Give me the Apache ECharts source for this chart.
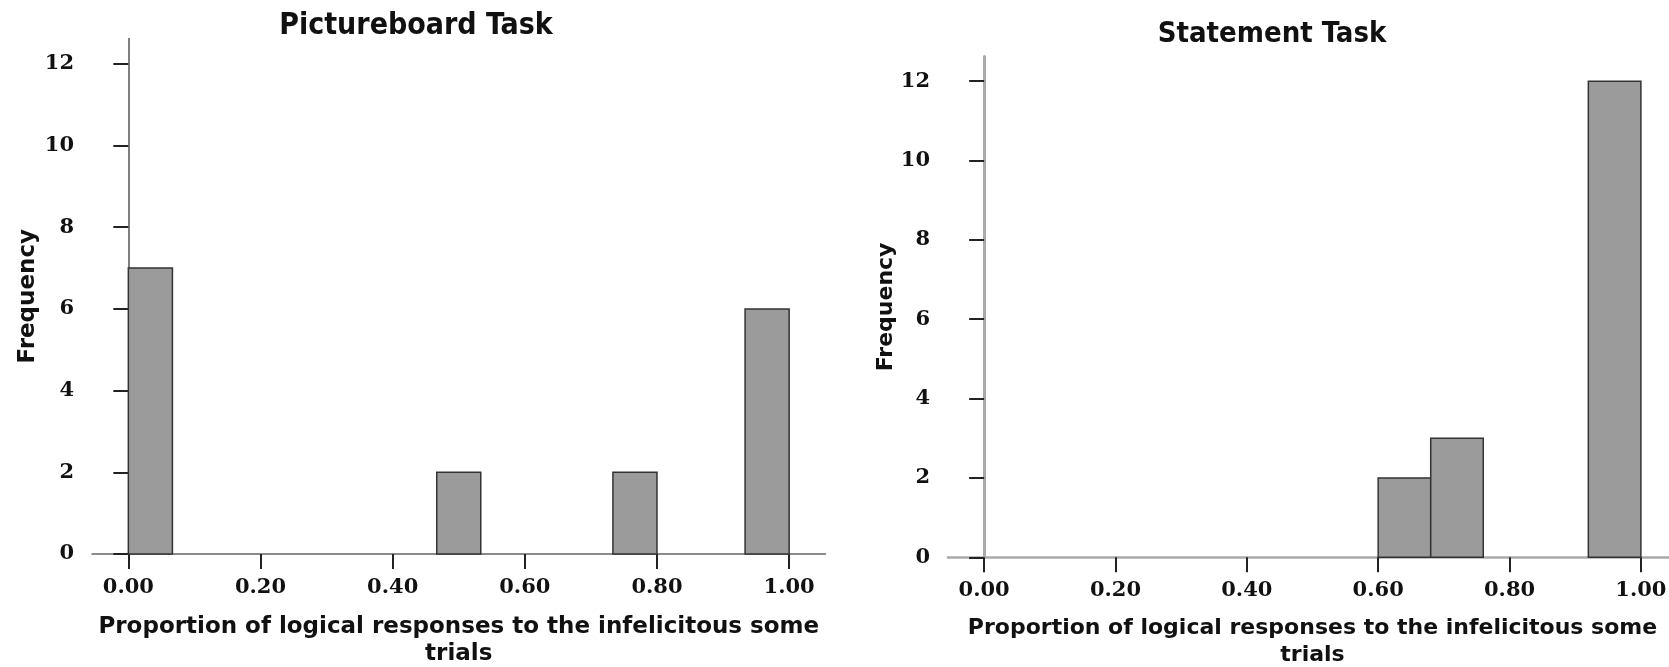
<!DOCTYPE html>
<html>
<head>
<meta charset="utf-8">
<script src="https://cdn.jsdelivr.net/npm/echarts@6/dist/echarts.min.js"></script>
<style>
  html, body { margin: 0; padding: 0; background: #fff; }
  #chart { width: 1669px; height: 667px; }
</style>
</head>
<body>
<div id="chart"></div>
<script>
// ---- Data ----
const titles = ['Pictureboard Task', 'Statement Task'];
const xAxisName = 'Proportion of logical responses to the infelicitous some\ntrials';
const yAxisName = 'Frequency';
const xTicks = [0, 0.2, 0.4, 0.6, 0.8, 1.0];
const yTicks = [0, 2, 4, 6, 8, 10, 12];

// Pictureboard Task histogram bins
const pictureBinStart = [0.0000, 0.4667, 0.7333, 0.9333];
const pictureBinEnd   = [0.0667, 0.5333, 0.8000, 1.0000];
const pictureCounts   = [7, 2, 2, 6];

// Statement Task histogram bins
const statementBinStart = [0.60, 0.68, 0.92];
const statementBinEnd   = [0.68, 0.76, 1.00];
const statementCounts   = [2, 3, 12];

// ---- Chart ----
const chart = echarts.init(document.getElementById('chart'), null, { renderer: 'canvas' });

const titleFont = "'Liberation Sans Narrow', 'DejaVu Sans Condensed', sans-serif";
const nameFont = "'DejaVu Sans', sans-serif";
const tickFont = "'DejaVu Serif', serif";

function binsData(starts, ends, counts) {
  return counts.map((c, i) => [starts[i], ends[i], c]);
}

function renderBin(params, api) {
  const p0 = api.coord([api.value(0), api.value(2)]);
  const p1 = api.coord([api.value(1), 0]);
  return {
    type: 'rect',
    shape: { x: p0[0], y: p0[1], width: p1[0] - p0[0], height: p1[1] - p0[1] },
    style: { fill: '#9b9b9b', stroke: '#333333', lineWidth: 1.5 }
  };
}

function xAxisCfg(gridIndex, lineColor, lineWidth, nameGap, nameSize) {
  return {
    type: 'value', gridIndex: gridIndex, min: -0.055, max: 1.055,
    splitLine: { show: false },
    axisLine: { show: true, onZero: false, lineStyle: { color: lineColor, width: lineWidth } },
    axisTick: { show: true, length: 15, customValues: xTicks, lineStyle: { color: '#222', width: 2 } },
    axisLabel: {
      show: true, customValues: xTicks, margin: 23,
      formatter: v => v.toFixed(2),
      fontFamily: tickFont, fontWeight: 'bold', fontSize: 21, color: '#111'
    },
    name: xAxisName, nameLocation: 'middle', nameGap: nameGap,
    nameTextStyle: { fontFamily: nameFont, fontWeight: 'bold', fontSize: nameSize, color: '#111', lineHeight: 27 }
  };
}

function yAxisCfg(gridIndex, lineColor, lineWidth, nameGap, nameSize) {
  return {
    type: 'value', gridIndex: gridIndex, min: 0, max: 12.62,
    splitLine: { show: false },
    axisLine: { show: true, lineStyle: { color: lineColor, width: lineWidth } },
    axisTick: { show: true, length: 15, customValues: yTicks, lineStyle: { color: '#222', width: 2 } },
    axisLabel: {
      show: true, customValues: yTicks, margin: 18,
      fontFamily: tickFont, fontWeight: 'bold', fontSize: 21, color: '#111'
    },
    name: yAxisName, nameLocation: 'middle', nameGap: nameGap,
    nameTextStyle: { fontFamily: nameFont, fontWeight: 'bold', fontSize: nameSize, color: '#111' }
  };
}

const option = {
  animation: false,
  backgroundColor: '#ffffff',
  title: [
    { text: titles[0], left: 411, top: 6, textAlign: 'center',
      textStyle: { fontFamily: titleFont, fontWeight: 'bold', fontSize: 30, color: '#111' } },
    { text: titles[1], left: 1267, top: 15, textAlign: 'center',
      textStyle: { fontFamily: titleFont, fontWeight: 'bold', fontSize: 29, color: '#111' } }
  ],
  grid: [
    { left: 92, top: 38.5, width: 733.5, height: 515.5, outerBoundsMode: 'none', containLabel: false },
    { left: 948, top: 56.6, width: 729, height: 500.7, outerBoundsMode: 'none', containLabel: false }
  ],
  xAxis: [
    xAxisCfg(0, '#666', 1.5, 59.5, 23),
    xAxisCfg(1, '#aaa', 2.5, 57, 22)
  ],
  yAxis: [
    yAxisCfg(0, '#555', 1.5, 52, 23),
    yAxisCfg(1, '#aaa', 3, 50, 22)
  ],
  series: [
    { type: 'custom', xAxisIndex: 0, yAxisIndex: 0, renderItem: renderBin,
      encode: { x: [0, 1], y: 2 },
      data: binsData(pictureBinStart, pictureBinEnd, pictureCounts) },
    { type: 'custom', xAxisIndex: 1, yAxisIndex: 1, renderItem: renderBin,
      encode: { x: [0, 1], y: 2 },
      data: binsData(statementBinStart, statementBinEnd, statementCounts) }
  ]
};

chart.setOption(option);
</script>
</body>
</html>
